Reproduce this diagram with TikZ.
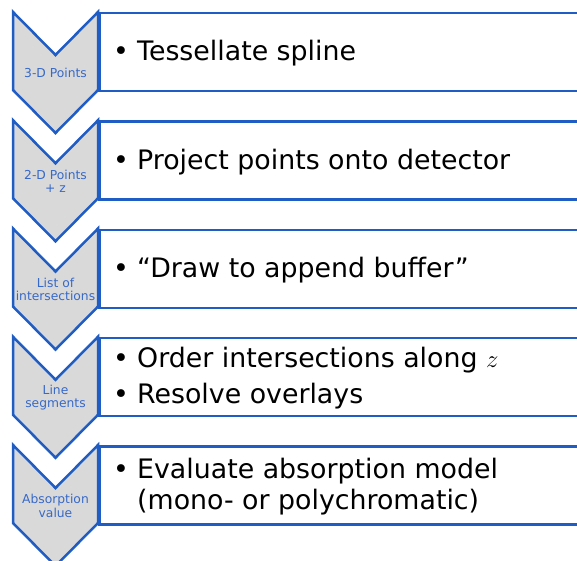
\documentclass[tikz,border=0pt]{standalone}
\usepackage{fontspec}
\setmainfont{DejaVu Sans}
\usetikzlibrary{positioning}
\definecolor{chvBlue}{RGB}{31,92,196}
\definecolor{chvLabel}{RGB}{55,105,200}
\definecolor{chvFill}{RGB}{217,217,217}
\newcommand{\bul}{\makebox[24bp][l]{\textbullet}}
\newcommand{\hang}{\hspace*{24bp}}

\tikzset{
  chevron/.style={draw=chvBlue, line width=2.5bp, fill=chvFill, line join=miter},
  stepbox/.style={draw=chvBlue, line width=2.5bp, fill=white, rectangle, anchor=north west,
    minimum width=520bp, minimum height=78bp, inner sep=0pt},
  steplabel/.style={text=chvLabel, font=\fontsize{12.3bp}{13.5bp}\selectfont, align=center, inner sep=0pt},
  steptext/.style={anchor=west, font=\fontsize{26.8bp}{31bp}\selectfont, align=left, inner sep=0pt}
}

\begin{document}
\begin{tikzpicture}[x=1bp, y=-1bp]
  \useasboundingbox (0,0) rectangle (577,561);
  \clip (0,0) rectangle (577,561);

  % Steps: chevron with label, box with text
  \foreach \i/\lbl/\txt in {
      0/{3-D Points}/{\bul Tessellate spline},
      1/{2-D Points\\+ z}/{\bul Project points onto detector},
      2/{List of\\intersections}/{\bul “Draw to append buffer”},
      3/{Line\\segments}/{\bul Order intersections along $z$\\[5bp]\bul Resolve overlays},
      4/{Absorption\\value}/{\bul Evaluate absorption model\\\hang(mono- or polychromatic)}} {
    \pgfmathsetmacro{\t}{12+108.25*\i}
    \draw[chevron] (13,\t) -- (55.5,\t+43) -- (98,\t) -- (98,\t+78)
      -- (55.5,\t+121) -- (13,\t+78) -- cycle;
    \node[steplabel] (lbl\i) at (55.5,\t+61) {\lbl};
    \node[stepbox] (box\i) at (98,\t) {};
    \node[steptext] (txt\i) at (113,\t+41.5) {\txt};
  }
\end{tikzpicture}
\end{document}
